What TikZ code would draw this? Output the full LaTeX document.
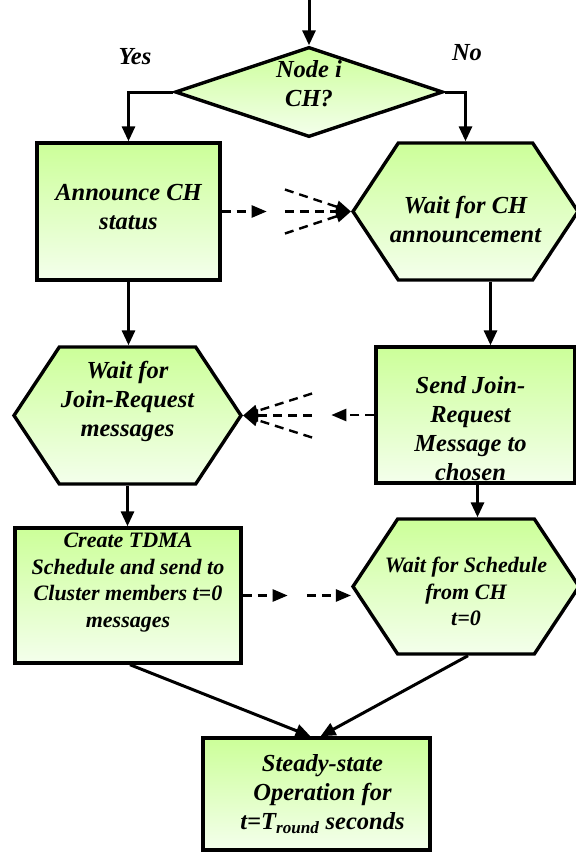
\documentclass[tikz,border=0pt]{standalone}
\usepackage{fontspec}
\setmainfont{Liberation Serif}
\usetikzlibrary{shapes.geometric,shapes.symbols,arrows.meta}
\definecolor{topgreen}{RGB}{204,255,153}
\definecolor{botgreen}{RGB}{244,255,236}
\tikzset{
  box/.style={rectangle,draw,line width=3.4pt,top color=topgreen,bottom color=botgreen,inner sep=0pt},
  hexa/.style={box,signal,signal to=west and east,signal pointer angle=113},
  choice/.style={box,diamond},
  bigtxt/.style={font=\fontsize{24.5}{29}\selectfont\bfseries\itshape,align=center},
  smalltxt/.style={font=\fontsize{22}{26.5}\selectfont\bfseries\itshape,align=center},
  arr/.style={line width=3pt,-{Triangle[length=15pt,width=13pt]}},
  darr/.style={line width=2.4pt,dash pattern=on 9pt off 6pt,-{Triangle[length=15pt,width=12pt]}},
}
\begin{document}
\begin{tikzpicture}[x=1pt,y=-1pt]
  \useasboundingbox (0,0) rectangle (576,852);
  % decision
  \coordinate (start) at (309,0);
  \node[choice,minimum width=268pt,minimum height=90pt,
    label={[bigtxt,yshift=8pt]center:Node i\\CH?}] (chk) at (309,92) {};
  \node[bigtxt] (yes) at (135,57) {Yes};
  \node[bigtxt] (no) at (467,53) {No};
  % left column
  \node[box,minimum width=183pt,minimum height=137pt,
    label={[bigtxt,yshift=4pt]center:Announce CH\\status}] (ann) at (128.5,211.5) {};
  \node[hexa,minimum width=227pt,minimum height=137pt,
    label={[bigtxt,yshift=14pt]center:Wait for\\Join-Request\\messages}] (wjr) at (127.5,415.5) {};
  \node[box,minimum width=226pt,minimum height=135pt,
    label={[smalltxt,yshift=13pt]center:Create TDMA\\Schedule and send to\\Cluster members t=0\\messages}] (crt) at (128,595.5) {};
  % right column
  \node[hexa,minimum width=225pt,minimum height=137pt,
    label={[bigtxt,yshift=-8pt]center:Wait for CH\\announcement}] (wch) at (465.5,211.5) {};
  \node[box,minimum width=199pt,minimum height=136pt,
    label={[bigtxt,xshift=-5pt,yshift=-14pt]center:Send Join-\\Request\\Message to\\chosen}] (snd) at (475.5,415) {};
  \node[hexa,minimum width=226pt,minimum height=135pt,
    label={[smalltxt,yshift=-5pt]center:Wait for Schedule\\from CH\\t=0}] (wsc) at (466,586.5) {};
  % end
  \node[box,minimum width=227pt,minimum height=112pt,
    label={[bigtxt,xshift=6pt]center:Steady-state\\Operation for\\t=T\textsubscript{round} seconds}] (sty) at (316.5,794) {};

  % solid flow
  \draw[arr] (start) -- (chk.north);
  \draw[arr] (chk.west) -| (ann.north);
  \draw[arr] (chk.east) -| (wch.north);
  \draw[arr] (ann.south) -- (ann.south |- wjr.north);
  \draw[arr] ([xshift=25pt]wch.south) -- ([xshift=25pt]wch.south |- snd.north);
  \draw[arr] (wjr.south) -- (wjr.south |- crt.north);
  \draw[arr] ([xshift=2pt]snd.south) -- ([xshift=2pt]snd.south |- wsc.north);
  \draw[arr] ([xshift=2pt]crt.south) -- ([xshift=-6pt]sty.north);
  \draw[arr] ([xshift=2pt]wsc.south) -- ([xshift=4pt]sty.north);

  % dashed messages
  \coordinate (ae) at ([xshift=45pt]ann.east);
  \draw[darr] (ann.east) -- (ae);
  \foreach \n/\dy in {1/-22,2/0,3/22} {
    \coordinate (af\n) at ([shift={(-66,\dy)}]wch.west);
    \draw[darr] (af\n) -- (wch.west);
  }
  \coordinate (se) at ([xshift=-43pt]snd.west);
  \draw[darr] (snd.west) -- (se);
  \foreach \n/\dy in {1/-22,2/0,3/22} {
    \coordinate (sf\n) at ([shift={(69,\dy)}]wjr.east);
    \draw[darr] (sf\n) -- (wjr.east);
  }
  \coordinate (ce) at ([xshift=45pt]crt.east);
  \draw[darr] (crt.east) -- (ce);
  \coordinate (cf) at ([xshift=-44pt]wsc.west |- crt.east);
  \draw[darr] (cf) -- (wsc.west |- crt.east);
\end{tikzpicture}
\end{document}
